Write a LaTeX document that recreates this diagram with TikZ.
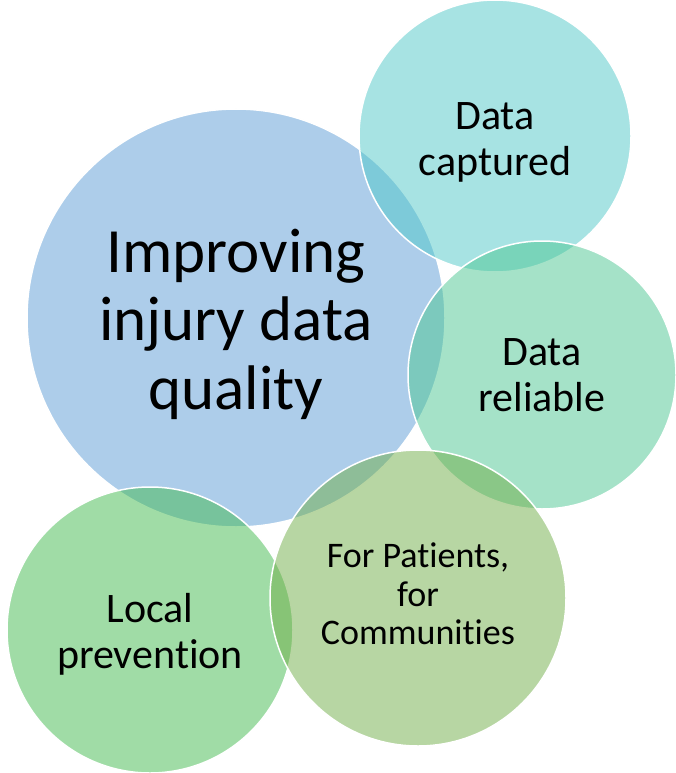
\documentclass[tikz,border=0pt]{standalone}
\usepackage{fontspec}
\setmainfont{Carlito}[Ligatures={NoCommon}]
\usetikzlibrary{positioning}
\definecolor{bubblue}{RGB}{91,155,213}
\definecolor{bubteal}{RGB}{80,200,200}
\definecolor{bubmint}{RGB}{76,198,146}
\definecolor{bubgreen}{RGB}{66,186,78}
\definecolor{bubolive}{RGB}{112,173,71}
\tikzset{
  bub/.style ={circle, draw=white, line width=1.5pt, fill opacity=0.5,
               inner sep=0pt},
  lbl/.style ={align=center, inner sep=0pt, text=black},
  bigtxt/.style ={lbl, font=\fontsize{63}{68.5}\selectfont},
  midtxt/.style ={lbl, font=\fontsize{42}{46}\selectfont},
  smltxt/.style ={lbl, font=\fontsize{36}{38.5}\selectfont},
}
\begin{document}
\begin{tikzpicture}[x=1pt,y=-1pt]
\useasboundingbox (0,0) rectangle (676,773);
% main bubble
\node[bub, fill=bubblue, minimum size=418pt] (main) at (236,318) {};
\node[bigtxt] (maintxt) at (236,324) {Improving\\injury data\\quality};
% surrounding bubbles
\node[bub, fill=bubteal, minimum size=272pt] (capt) at (495,136) {};
\node[midtxt] (capttxt) at (495,142) {Data\\captured};
\node[bub, fill=bubmint, minimum size=268pt] (reli) at (542,375) {};
\node[midtxt] (relitxt) at (542,375) {Data\\reliable};
\node[bub, fill=bubgreen, minimum size=286pt] (prev) at (150,630) {};
\node[midtxt] (prevtxt) at (150,634) {Local\\prevention};
\node[bub, fill=bubolive, minimum size=296pt] (comm) at (418,598) {};
\node[smltxt] (commtxt) at (418,594) {For Patients,\\for\\Communities};
\end{tikzpicture}
\end{document}
